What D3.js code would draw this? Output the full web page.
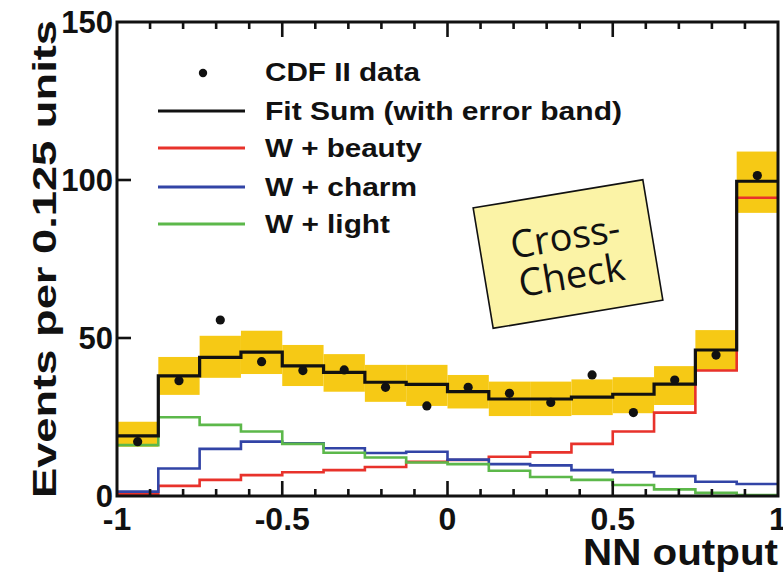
<!DOCTYPE html>
<html>
<head>
<meta charset="utf-8">
<script src="https://cdn.jsdelivr.net/npm/d3@7/dist/d3.min.js"></script>
<style>
  html, body { margin: 0; padding: 0; background: #fff; }
  svg { display: block; }
  text { font-family: "Liberation Sans", Arial, Helvetica, sans-serif; font-weight: bold; fill: #111; }
</style>
</head>
<body>
<svg id="chart" width="783" height="572"></svg>
<script>
// NN output histogram: 16 bins of width 0.125 between -1 and 1
const binLow = [-1, -0.875, -0.75, -0.625, -0.5, -0.375, -0.25, -0.125,
                0, 0.125, 0.25, 0.375, 0.5, 0.625, 0.75, 0.875];
const binWidth = 0.125;

// CDF II data points (events per bin)
const dataCounts = [17.2, 36.5, 55.7, 42.5, 39.7, 39.9, 34.4, 28.5,
                    34.4, 32.5, 29.6, 38.3, 26.4, 36.7, 44.6, 101.4];

// Fit sum and its error band
const fitSum   = [19.0, 38.0, 43.9, 45.5, 41.2, 39.1, 36.0, 35.3,
                  33.0, 30.7, 30.7, 31.3, 32.2, 35.4, 46.2, 99.6];
const bandLow  = [15.6, 32.0, 37.4, 38.6, 34.8, 33.0, 29.8, 28.5,
                  27.7, 25.3, 25.3, 25.6, 26.2, 28.8, 39.7, 89.6];
const bandHigh = [23.5, 44.0, 50.7, 52.3, 47.8, 44.9, 41.5, 41.5,
                  38.3, 36.2, 36.2, 36.9, 37.6, 41.1, 52.5, 109.0];

// Fit components
const wBeauty = [0.5, 3.2, 5.1, 6.6, 7.5, 8.2, 9.2, 10.8,
                 11.4, 12.4, 13.8, 16.5, 20.4, 26.4, 39.7, 94.4];
const wCharm  = [1.4, 8.7, 14.9, 17.2, 16.7, 15.1, 13.6, 14.0,
                 11.5, 10.1, 9.7, 8.2, 7.5, 6.3, 4.5, 3.8];
const wLight  = [16.1, 24.9, 22.5, 20.4, 16.5, 13.7, 12.2, 10.6,
                 10.1, 8.0, 6.0, 5.1, 3.5, 2.1, 1.0, 0.3];

// Axis ticks
const xTickLabels = [-1, -0.5, 0, 0.5, 1];
const xMinorTicks = [-0.9, -0.8, -0.7, -0.6, -0.4, -0.3, -0.2, -0.1,
                     0.1, 0.2, 0.3, 0.4, 0.6, 0.7, 0.8, 0.9];
const yTickLabels = [0, 50, 100, 150];

const legendItems = [
  { label: "CDF II data", kind: "dot", color: "#111", len: 155 },
  { label: "Fit Sum (with error band)", kind: "line", color: "#111", len: 357 },
  { label: "W + beauty", kind: "line", color: "#e8322b", len: 157 },
  { label: "W + charm", kind: "line", color: "#3244a6", len: 152 },
  { label: "W + light", kind: "line", color: "#5cb84a", len: 125 }
];

const colors = { band: "#f6c915", fit: "#111", beauty: "#e8322b", charm: "#3244a6", light: "#5cb84a" };

const svg = d3.select("#chart");
const plotLeft = 117, plotRight = 778, plotTop = 22, plotBottom = 496;

const x = d3.scaleLinear().domain([-1, 1]).range([plotLeft, plotRight]);
const y = d3.scaleLinear().domain([0, 150]).range([plotBottom, plotTop]);

const plot = svg.append("g");

// error band
plot.selectAll("rect.band")
  .data(binLow.map((b, i) => ({ b, lo: bandLow[i], hi: bandHigh[i] })))
  .join("rect")
  .attr("class", "band")
  .attr("x", d => x(d.b))
  .attr("width", d => x(d.b + binWidth) - x(d.b))
  .attr("y", d => y(d.hi))
  .attr("height", d => y(d.lo) - y(d.hi))
  .attr("fill", colors.band);

// step outline for a binned series
function stepPath(values) {
  const pts = [];
  values.forEach((v, i) => {
    pts.push([x(binLow[i]), y(v)]);
    pts.push([x(binLow[i] + binWidth), y(v)]);
  });
  return d3.line()(pts);
}

[[wBeauty, colors.beauty], [wCharm, colors.charm], [wLight, colors.light]].forEach(([vals, c]) => {
  plot.append("path")
    .attr("d", stepPath(vals))
    .attr("fill", "none")
    .attr("stroke", c)
    .attr("stroke-width", 2.6);
});

plot.append("path")
  .attr("d", stepPath(fitSum))
  .attr("fill", "none")
  .attr("stroke", colors.fit)
  .attr("stroke-width", 3.2);

// data points
plot.selectAll("circle.pt")
  .data(dataCounts.map((v, i) => ({ c: binLow[i] + binWidth / 2, v })))
  .join("circle")
  .attr("class", "pt")
  .attr("cx", d => x(d.c))
  .attr("cy", d => y(d.v))
  .attr("r", 4.6)
  .attr("fill", "#111");

// frame and ticks
const axes = svg.append("g");
axes.append("rect")
  .attr("x", plotLeft).attr("y", plotTop)
  .attr("width", plotRight - plotLeft).attr("height", plotBottom - plotTop)
  .attr("fill", "none").attr("stroke", "#111").attr("stroke-width", 3);

const majorLen = 15, minorLen = 7, yTickLen = 14;
const xMajor = xTickLabels.filter(v => v > -1 && v < 1);
[[xMajor, majorLen], [xMinorTicks, minorLen]].forEach(([ticks, len]) => {
  axes.selectAll(null).data(ticks).join("line")
    .attr("x1", d => x(d)).attr("x2", d => x(d))
    .attr("y1", plotBottom).attr("y2", plotBottom - len)
    .attr("stroke", "#111").attr("stroke-width", 2.6);
  axes.selectAll(null).data(ticks).join("line")
    .attr("x1", d => x(d)).attr("x2", d => x(d))
    .attr("y1", plotTop).attr("y2", plotTop + len)
    .attr("stroke", "#111").attr("stroke-width", 2.6);
});
axes.selectAll(null).data(yTickLabels.filter(v => v > 0 && v < 150)).join("line")
  .attr("x1", plotLeft).attr("x2", plotLeft + yTickLen)
  .attr("y1", d => y(d)).attr("y2", d => y(d))
  .attr("stroke", "#111").attr("stroke-width", 2.6);

// tick labels
axes.selectAll(null).data(xTickLabels).join("text")
  .attr("x", d => x(d))
  .attr("y", 530)
  .attr("text-anchor", "middle")
  .attr("font-size", 32)
  .text(d => String(d));

axes.selectAll(null).data(yTickLabels).join("text")
  .attr("x", 113)
  .attr("y", d => y(d) + 11)
  .attr("text-anchor", "end")
  .attr("font-size", 31)
  .text(d => d);

// axis titles
svg.append("text")
  .attr("x", 778).attr("y", 565)
  .attr("text-anchor", "end")
  .attr("font-size", 37)
  .attr("textLength", 195)
  .attr("lengthAdjust", "spacingAndGlyphs")
  .text("NN output");

svg.append("text")
  .attr("transform", "translate(56,259) rotate(-90)")
  .attr("text-anchor", "middle")
  .attr("font-size", 34)
  .attr("textLength", 478)
  .attr("lengthAdjust", "spacingAndGlyphs")
  .text("Events per 0.125 units");

// legend
const legend = svg.append("g");
const legY = [72, 111, 148, 187, 224];
legendItems.forEach((it, i) => {
  const g = legend.append("g").attr("transform", `translate(0,${legY[i]})`);
  if (it.kind === "dot") {
    g.append("circle").attr("cx", 203).attr("cy", 1).attr("r", 4.2).attr("fill", it.color);
  } else {
    g.append("line").attr("x1", 158).attr("x2", 245).attr("y1", 0).attr("y2", 0)
      .attr("stroke", it.color).attr("stroke-width", 2.8);
  }
  g.append("text")
    .attr("x", 265).attr("y", 9)
    .attr("font-size", 25)
    .attr("textLength", it.len)
    .attr("lengthAdjust", "spacingAndGlyphs")
    .text(it.label);
});

// "Cross-Check" note
const note = svg.append("g").attr("transform", "translate(568,254) rotate(-9.45)");
note.append("rect")
  .attr("x", -86).attr("y", -61).attr("width", 172).attr("height", 122)
  .attr("fill", "#fbf3a6").attr("stroke", "#111").attr("stroke-width", 1.6);
note.selectAll(null).data([["Cross-", -18], ["Check", 21]]).join("text")
  .attr("x", 0).attr("y", d => d[1])
  .attr("dy", "0.36em")
  .attr("text-anchor", "middle")
  .style("font-family", "'Open Sans', 'Noto Sans', sans-serif")
  .style("font-weight", "normal")
  .attr("font-size", 38)
  .text(d => d[0]);
</script>
</body>
</html>
